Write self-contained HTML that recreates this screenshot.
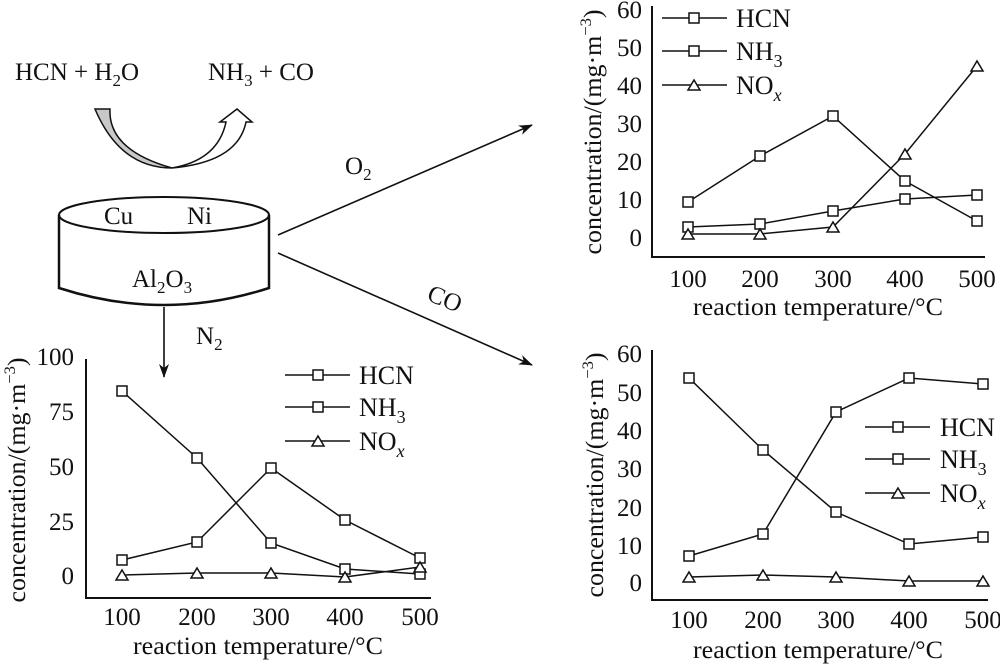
<!DOCTYPE html>
<html><head><meta charset="utf-8"><style>
html,body{margin:0;padding:0;background:#fff}
svg{display:block}
text{font-family:"Liberation Serif",serif;fill:#111}
</style></head><body>
<svg width="1000" height="666" viewBox="0 0 1000 666" xmlns="http://www.w3.org/2000/svg">
<defs>
<marker id="ah" markerWidth="14" markerHeight="10" refX="13" refY="5" orient="auto" markerUnits="userSpaceOnUse">
<path d="M0,0 L14,5 L0,10 L4,5 Z" fill="#111"/>
</marker>
</defs>
<g stroke="#111" stroke-width="2" fill="none">
<path d="M95,109 L110,109 Q108,150 172,168 Q120,168 95,109 Z" fill="#c8c8c8" stroke-width="1.5"/>
<path d="M172,168 Q218,160 226,122 L220,122 L237,109 L252,122 L246,122 Q238,162 172,168 Z" fill="#fff" stroke-width="1.5"/>
<ellipse cx="164" cy="215" rx="105" ry="18"/>
<path d="M59,215 L59,288 Q164,322 269,288 L269,215" stroke-width="2.5"/>
<line x1="278" y1="235" x2="532" y2="125" marker-end="url(#ah)" stroke-width="1.6"/>
<line x1="278" y1="253" x2="532" y2="365" marker-end="url(#ah)" stroke-width="1.6"/>
<line x1="164" y1="307" x2="164" y2="377" marker-end="url(#ah)" stroke-width="1.6"/>
</g>
<g font-size="25">
<text x="15" y="80">HCN + H<tspan font-size="17" dy="6">2</tspan><tspan dy="-6">O</tspan></text>
<text x="208" y="80">NH<tspan font-size="17" dy="6">3</tspan><tspan dy="-6"> + CO</tspan></text>
<text x="104" y="224">Cu</text>
<text x="187" y="224">Ni</text>
<text x="132" y="287">Al<tspan font-size="17" dy="6">2</tspan><tspan dy="-6">O</tspan><tspan font-size="17" dy="6">3</tspan></text>
<text x="345" y="174">O<tspan font-size="17" dy="6">2</tspan></text>
<text x="428" y="306" transform="rotate(22 443 297)">CO</text>
<text x="196" y="344">N<tspan font-size="17" dy="6">2</tspan></text>
</g>

<!-- top-right chart -->
<g stroke="#111" stroke-width="2" fill="none">
<path d="M652,6 L652,257 L985,257"/>
<polyline points="688,202 760,156 833,116 905,181 977,221" stroke-width="1.5"/>
<polyline points="688,227 760,224 833,211 905,199 977,195" stroke-width="1.5"/>
<polyline points="688,234 760,234 833,227 905,154 977,66" stroke-width="1.5"/>
<line x1="662" y1="18" x2="727" y2="18" stroke-width="1.5"/>
<line x1="662" y1="51" x2="727" y2="51" stroke-width="1.5"/>
<line x1="662" y1="85" x2="727" y2="85" stroke-width="1.5"/>
</g>
<g fill="#fff" stroke="#111" stroke-width="1.5">
<rect x="683" y="197" width="10" height="10"/><rect x="755" y="151" width="10" height="10"/><rect x="828" y="111" width="10" height="10"/><rect x="900" y="176" width="10" height="10"/><rect x="972" y="216" width="10" height="10"/>
<rect x="683" y="222" width="10" height="10"/><rect x="755" y="219" width="10" height="10"/><rect x="828" y="206" width="10" height="10"/><rect x="900" y="194" width="10" height="10"/><rect x="972" y="190" width="10" height="10"/>
<path d="M682,239 L688,229 L694,239 Z"/><path d="M754,239 L760,229 L766,239 Z"/><path d="M827,232 L833,222 L839,232 Z"/><path d="M899,159 L905,149 L911,159 Z"/><path d="M971,71 L977,61 L983,71 Z"/>
<rect x="689" y="13" width="10" height="10"/><rect x="689" y="46" width="10" height="10"/><path d="M688,90 L694,80 L700,90 Z"/>
</g>
<g font-size="25" text-anchor="end">
<text x="642" y="18">60</text><text x="642" y="56">50</text><text x="642" y="94">40</text><text x="642" y="132">30</text><text x="642" y="170">20</text><text x="642" y="208">10</text><text x="642" y="246">0</text>
</g>
<g font-size="25" text-anchor="middle">
<text x="688" y="287">100</text><text x="760" y="287">200</text><text x="833" y="287">300</text><text x="905" y="287">400</text><text x="977" y="287">500</text>
<text x="818" y="315" textLength="250" lengthAdjust="spacingAndGlyphs">reaction temperature/°C</text>
<text transform="translate(601,132) rotate(-90)" textLength="245" lengthAdjust="spacingAndGlyphs">concentration/(mg·m<tspan font-size="16" dy="-10">−3</tspan><tspan dy="10">)</tspan></text>
</g>
<g font-size="26">
<text x="736" y="27">HCN</text>
<text x="736" y="60">NH<tspan font-size="18" dy="7">3</tspan></text>
<text x="736" y="94">NO<tspan font-size="18" dy="7" font-style="italic">x</tspan></text>
</g>

<!-- bottom-left chart -->
<g stroke="#111" stroke-width="2" fill="none">
<path d="M86,359 L86,598 L431,598"/>
<polyline points="122,391 197,458 271,543 345,569 420,574" stroke-width="1.5"/>
<polyline points="122,560 197,542 271,468 345,520 420,558" stroke-width="1.5"/>
<polyline points="122,575 197,573 271,573 345,577 420,567" stroke-width="1.5"/>
<line x1="285" y1="375" x2="350" y2="375" stroke-width="1.5"/>
<line x1="285" y1="407" x2="350" y2="407" stroke-width="1.5"/>
<line x1="285" y1="441" x2="350" y2="441" stroke-width="1.5"/>
</g>
<g fill="#fff" stroke="#111" stroke-width="1.5">
<rect x="117" y="386" width="10" height="10"/><rect x="192" y="453" width="10" height="10"/><rect x="266" y="538" width="10" height="10"/><rect x="340" y="564" width="10" height="10"/><rect x="415" y="569" width="10" height="10"/>
<rect x="117" y="555" width="10" height="10"/><rect x="192" y="537" width="10" height="10"/><rect x="266" y="463" width="10" height="10"/><rect x="340" y="515" width="10" height="10"/><rect x="415" y="553" width="10" height="10"/>
<path d="M116,580 L122,570 L128,580 Z"/><path d="M191,578 L197,568 L203,578 Z"/><path d="M265,578 L271,568 L277,578 Z"/><path d="M339,582 L345,572 L351,582 Z"/><path d="M414,572 L420,562 L426,572 Z"/>
<rect x="313" y="370" width="10" height="10"/><rect x="313" y="402" width="10" height="10"/><path d="M312,446 L318,436 L324,446 Z"/>
</g>
<g font-size="25" text-anchor="end">
<text x="74" y="365">100</text><text x="74" y="420">75</text><text x="74" y="475">50</text><text x="74" y="530">25</text><text x="74" y="584">0</text>
</g>
<g font-size="25" text-anchor="middle">
<text x="122" y="625">100</text><text x="197" y="625">200</text><text x="271" y="625">300</text><text x="345" y="625">400</text><text x="420" y="625">500</text>
<text x="258" y="654" textLength="250" lengthAdjust="spacingAndGlyphs">reaction temperature/°C</text>
<text transform="translate(25,480) rotate(-90)" textLength="245" lengthAdjust="spacingAndGlyphs">concentration/(mg·m<tspan font-size="16" dy="-10">−3</tspan><tspan dy="10">)</tspan></text>
</g>
<g font-size="26">
<text x="359" y="384">HCN</text>
<text x="359" y="416">NH<tspan font-size="18" dy="7">3</tspan></text>
<text x="359" y="450">NO<tspan font-size="18" dy="7" font-style="italic">x</tspan></text>
</g>

<!-- bottom-right chart -->
<g stroke="#111" stroke-width="2" fill="none">
<path d="M652,350 L652,600 L988,600"/>
<polyline points="689,378 763,450 836,512 909,544 983,537" stroke-width="1.5"/>
<polyline points="689,556 763,534 836,412 909,378 983,384" stroke-width="1.5"/>
<polyline points="689,577 763,575 836,577 909,581 983,581" stroke-width="1.5"/>
<line x1="865" y1="427" x2="930" y2="427" stroke-width="1.5"/>
<line x1="865" y1="459" x2="930" y2="459" stroke-width="1.5"/>
<line x1="865" y1="493" x2="930" y2="493" stroke-width="1.5"/>
</g>
<g fill="#fff" stroke="#111" stroke-width="1.5">
<rect x="684" y="373" width="10" height="10"/><rect x="758" y="445" width="10" height="10"/><rect x="831" y="507" width="10" height="10"/><rect x="904" y="539" width="10" height="10"/><rect x="978" y="532" width="10" height="10"/>
<rect x="684" y="551" width="10" height="10"/><rect x="758" y="529" width="10" height="10"/><rect x="831" y="407" width="10" height="10"/><rect x="904" y="373" width="10" height="10"/><rect x="978" y="379" width="10" height="10"/>
<path d="M683,582 L689,572 L695,582 Z"/><path d="M757,580 L763,570 L769,580 Z"/><path d="M830,582 L836,572 L842,582 Z"/><path d="M903,586 L909,576 L915,586 Z"/><path d="M977,586 L983,576 L989,586 Z"/>
<rect x="893" y="422" width="10" height="10"/><rect x="893" y="454" width="10" height="10"/><path d="M892,498 L898,488 L904,498 Z"/>
</g>
<g font-size="25" text-anchor="end">
<text x="642" y="362">60</text><text x="642" y="401">50</text><text x="642" y="439">40</text><text x="642" y="477">30</text><text x="642" y="516">20</text><text x="642" y="554">10</text><text x="642" y="591">0</text>
</g>
<g font-size="25" text-anchor="middle">
<text x="689" y="628">100</text><text x="763" y="628">200</text><text x="836" y="628">300</text><text x="909" y="628">400</text><text x="983" y="628">500</text>
<text x="818" y="658" textLength="250" lengthAdjust="spacingAndGlyphs">reaction temperature/°C</text>
<text transform="translate(603,475) rotate(-90)" textLength="245" lengthAdjust="spacingAndGlyphs">concentration/(mg·m<tspan font-size="16" dy="-10">−3</tspan><tspan dy="10">)</tspan></text>
</g>
<g font-size="26">
<text x="940" y="436">HCN</text>
<text x="940" y="468">NH<tspan font-size="18" dy="7">3</tspan></text>
<text x="940" y="502">NO<tspan font-size="18" dy="7" font-style="italic">x</tspan></text>
</g>
</svg>
</body></html>
